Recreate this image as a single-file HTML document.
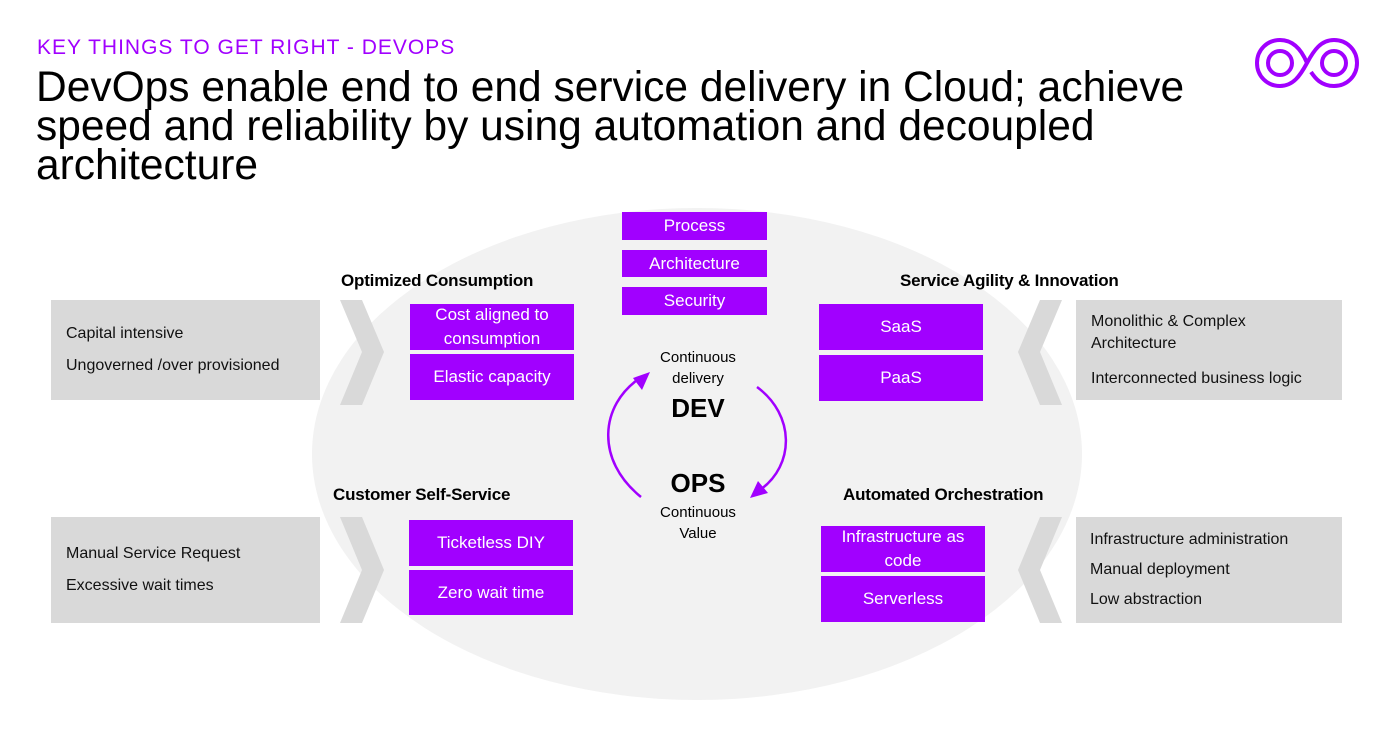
<!DOCTYPE html>
<html><head><meta charset="utf-8"><style>
body{margin:0;width:1390px;height:732px;background:#fff;position:relative;overflow:hidden;font-family:"Liberation Sans",sans-serif;}
.a{position:absolute;}
.p{position:absolute;background:#a100ff;color:#fff;font-size:17px;display:flex;align-items:center;justify-content:center;text-align:center;line-height:24px;}
.g{position:absolute;background:#d9d9d9;color:#111;font-size:16px;padding-left:15px;box-sizing:border-box;display:flex;flex-direction:column;justify-content:center;}
.g div{margin:5px 0;line-height:22px}
.h{position:absolute;font-weight:bold;font-size:17px;color:#000;letter-spacing:-0.2px}
.c{position:absolute;font-size:15px;text-align:center;color:#000;line-height:21px}
</style></head><body>
<svg class="a" style="left:0;top:0" width="1390" height="732">
<ellipse cx="697" cy="454" rx="385" ry="246" fill="#f2f2f2"/>
<polygon points="340,300 362,300 384,352 362,405 340,405 362,352" fill="#d9d9d9"/>
<polygon points="340,517 362,517 384,570 362,623 340,623 362,570" fill="#d9d9d9"/>
<polygon points="1062,300 1040,300 1018,352 1040,405 1062,405 1040,352" fill="#d9d9d9"/>
<polygon points="1062,517 1040,517 1018,570 1040,623 1062,623 1040,570" fill="#d9d9d9"/>
<path d="M641,497 C595,460 600,405 640,378" stroke="#a100ff" stroke-width="2.5" fill="none"/>
<polygon points="650,372 633,378 642,390" fill="#a100ff"/>
<path d="M757,387 C795,415 795,465 760,490" stroke="#a100ff" stroke-width="2.5" fill="none"/>
<polygon points="750,498 768,493 758,481" fill="#a100ff"/>
<g fill="none" stroke="#a100ff" stroke-width="4">
<circle cx="1280" cy="63" r="12"/><circle cx="1334" cy="63" r="12"/>
<path d="M1307,63 C1300,46 1290,40 1280,40 C1267,40 1257,50 1257,63 C1257,76 1267,86 1280,86 C1293,86 1300,76 1307,63 C1314,50 1321,40 1334,40 C1347,40 1357,50 1357,63 C1357,76 1347,86 1334,86 C1321,86 1315,78 1311,72"/>
</g>
</svg>
<div class="a" style="left:37px;top:36px;font-size:21px;color:#a100ff;letter-spacing:1px">KEY THINGS TO GET RIGHT - DEVOPS</div>
<div class="a" style="left:36px;top:68px;font-size:42.5px;line-height:39px;color:#000;width:1220px">DevOps enable end to end service delivery in Cloud; achieve speed and reliability by using automation and decoupled architecture</div>

<div class="p" style="left:622px;top:212px;width:145px;height:28px">Process</div>
<div class="p" style="left:622px;top:250px;width:145px;height:27px">Architecture</div>
<div class="p" style="left:622px;top:287px;width:145px;height:28px">Security</div>

<div class="h" style="left:341px;top:271px">Optimized Consumption</div>
<div class="h" style="left:900px;top:271px">Service Agility &amp; Innovation</div>
<div class="h" style="left:333px;top:485px">Customer Self-Service</div>
<div class="h" style="left:843px;top:485px">Automated Orchestration</div>

<div class="p" style="left:410px;top:304px;width:164px;height:46px">Cost aligned to<br>consumption</div>
<div class="p" style="left:410px;top:354px;width:164px;height:46px">Elastic capacity</div>
<div class="p" style="left:819px;top:304px;width:164px;height:46px">SaaS</div>
<div class="p" style="left:819px;top:355px;width:164px;height:46px">PaaS</div>
<div class="p" style="left:409px;top:520px;width:164px;height:46px">Ticketless DIY</div>
<div class="p" style="left:409px;top:570px;width:164px;height:45px">Zero wait time</div>
<div class="p" style="left:821px;top:526px;width:164px;height:46px">Infrastructure as<br>code</div>
<div class="p" style="left:821px;top:576px;width:164px;height:46px">Serverless</div>

<div class="g" style="left:51px;top:300px;width:269px;height:100px"><div>Capital intensive</div><div>Ungoverned /over provisioned</div></div>
<div class="g" style="left:51px;top:517px;width:269px;height:106px"><div>Manual Service Request</div><div>Excessive wait times</div></div>
<div class="g" style="left:1076px;top:300px;width:266px;height:100px"><div style="margin-bottom:8px">Monolithic &amp; Complex<br>Architecture</div><div>Interconnected business logic</div></div>
<div class="g" style="left:1076px;top:517px;width:266px;height:106px;padding-left:14px"><div style="margin:4px 0">Infrastructure administration</div><div style="margin:4px 0">Manual deployment</div><div style="margin:4px 0">Low abstraction</div></div>

<div class="c" style="left:638px;top:347px;width:120px">Continuous<br>delivery</div>
<div class="a" style="left:638px;top:393px;width:120px;text-align:center;font-weight:bold;font-size:26px">DEV</div>
<div class="a" style="left:638px;top:468px;width:120px;text-align:center;font-weight:bold;font-size:26px">OPS</div>
<div class="c" style="left:638px;top:502px;width:120px">Continuous<br>Value</div>
</body></html>
